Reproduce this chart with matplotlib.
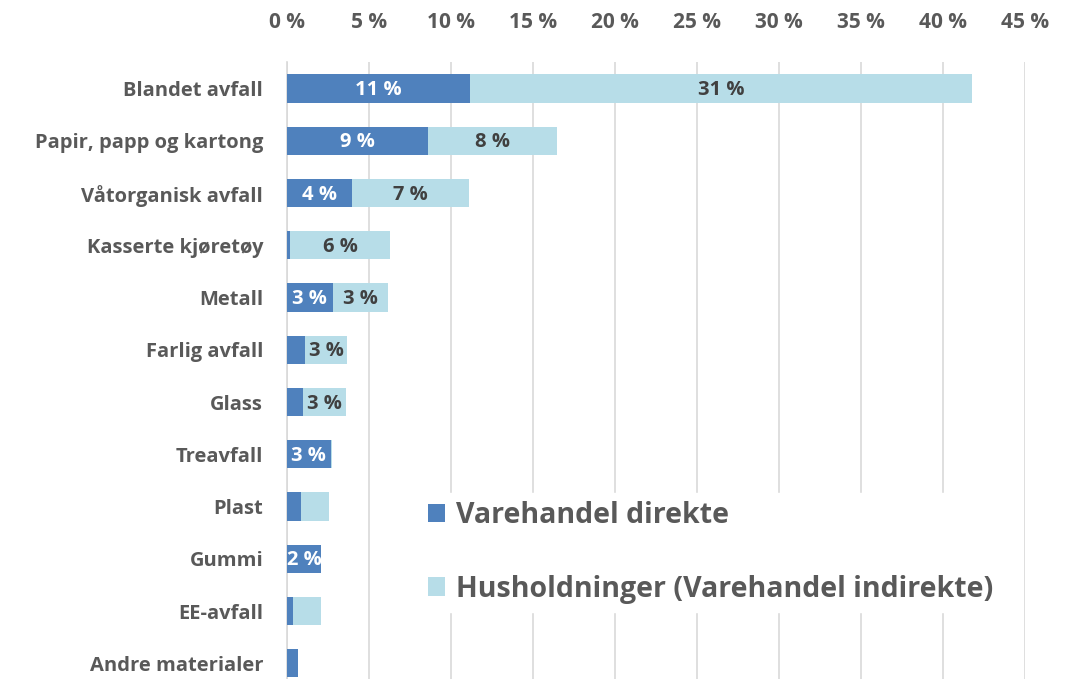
import numpy as np
import matplotlib
matplotlib.use('Agg')
from matplotlib import pyplot as plt

plt.rcParams['font.family'] = ['Open Sans', 'DejaVu Sans']
plt.rcParams['font.weight'] = 'bold'

kategorier = ['Blandet avfall', 'Papir, papp og kartong', 'Våtorganisk avfall',
              'Kasserte kjøretøy', 'Metall', 'Farlig avfall', 'Glass', 'Treavfall',
              'Plast', 'Gummi', 'EE-avfall', 'Andre materialer']
direkte = [11.2, 8.6, 4.0, 0.2, 2.8, 1.1, 1.0, 2.7, 0.9, 2.1, 0.4, 0.7]
indirekte = [30.6, 7.9, 7.1, 6.1, 3.4, 2.6, 2.6, 0.05, 1.7, 0.0, 1.7, 0.0]
xticks = [0, 5, 10, 15, 20, 25, 30, 35, 40, 45]

blaa = '#4F81BD'
lysblaa = '#B7DDE8'
graa = '#595959'

fig = plt.figure(figsize=(10.82, 6.79), dpi=100)
ax = fig.add_axes([0.265, 0.0, 0.682, 0.908])

y = np.arange(len(kategorier))
ax.barh(y, direkte, height=0.54, color=blaa, label='Varehandel direkte', zorder=3)
ax.barh(y, indirekte, left=direkte, height=0.54, color=lysblaa,
        label='Husholdninger (Varehandel indirekte)', zorder=3)

for i in range(len(kategorier)):
    if direkte[i] >= 2:
        ax.text(direkte[i] / 2, i + 0.03, '%d %%' % round(direkte[i]), ha='center', va='center',
                color='white', fontsize=14.5, fontweight='bold', zorder=4)
    if indirekte[i] >= 2:
        ax.text(direkte[i] + indirekte[i] / 2, i + 0.03, '%d %%' % round(indirekte[i]),
                ha='center', va='center', color='#404040', fontsize=14.5,
                fontweight='bold', zorder=4)

ax.set_xlim(0, 45)
ax.set_ylim(11.3, -0.5)
ax.set_yticks(y)
ax.set_yticklabels(kategorier, fontsize=14.5, color=graa, fontweight='bold')
ax.xaxis.tick_top()
ax.set_xticks(xticks)
ax.set_xticklabels(['%d %%' % v for v in xticks], fontsize=15, color=graa, fontweight='bold')
ax.tick_params(axis='y', length=0, pad=17)
ax.tick_params(axis='x', length=0, pad=21)
ax.xaxis.grid(True, color='#D9D9D9', linewidth=1.2, zorder=0)
for s in ['top', 'right', 'bottom']:
    ax.spines[s].set_visible(False)
ax.spines['left'].set_color('#D9D9D9')
ax.spines['left'].set_linewidth(1.2)

leg = ax.legend(loc='upper left', bbox_to_anchor=(0.16, 0.325), fontsize=20.5,
                frameon=True, framealpha=1, edgecolor='white', labelspacing=1.55,
                handlelength=0.6, handleheight=0.6, handletextpad=0.4, borderpad=0.3)
for t in leg.get_texts():
    t.set_color(graa)
leg.set_zorder(5)

fig.savefig('out.png', dpi=100)
